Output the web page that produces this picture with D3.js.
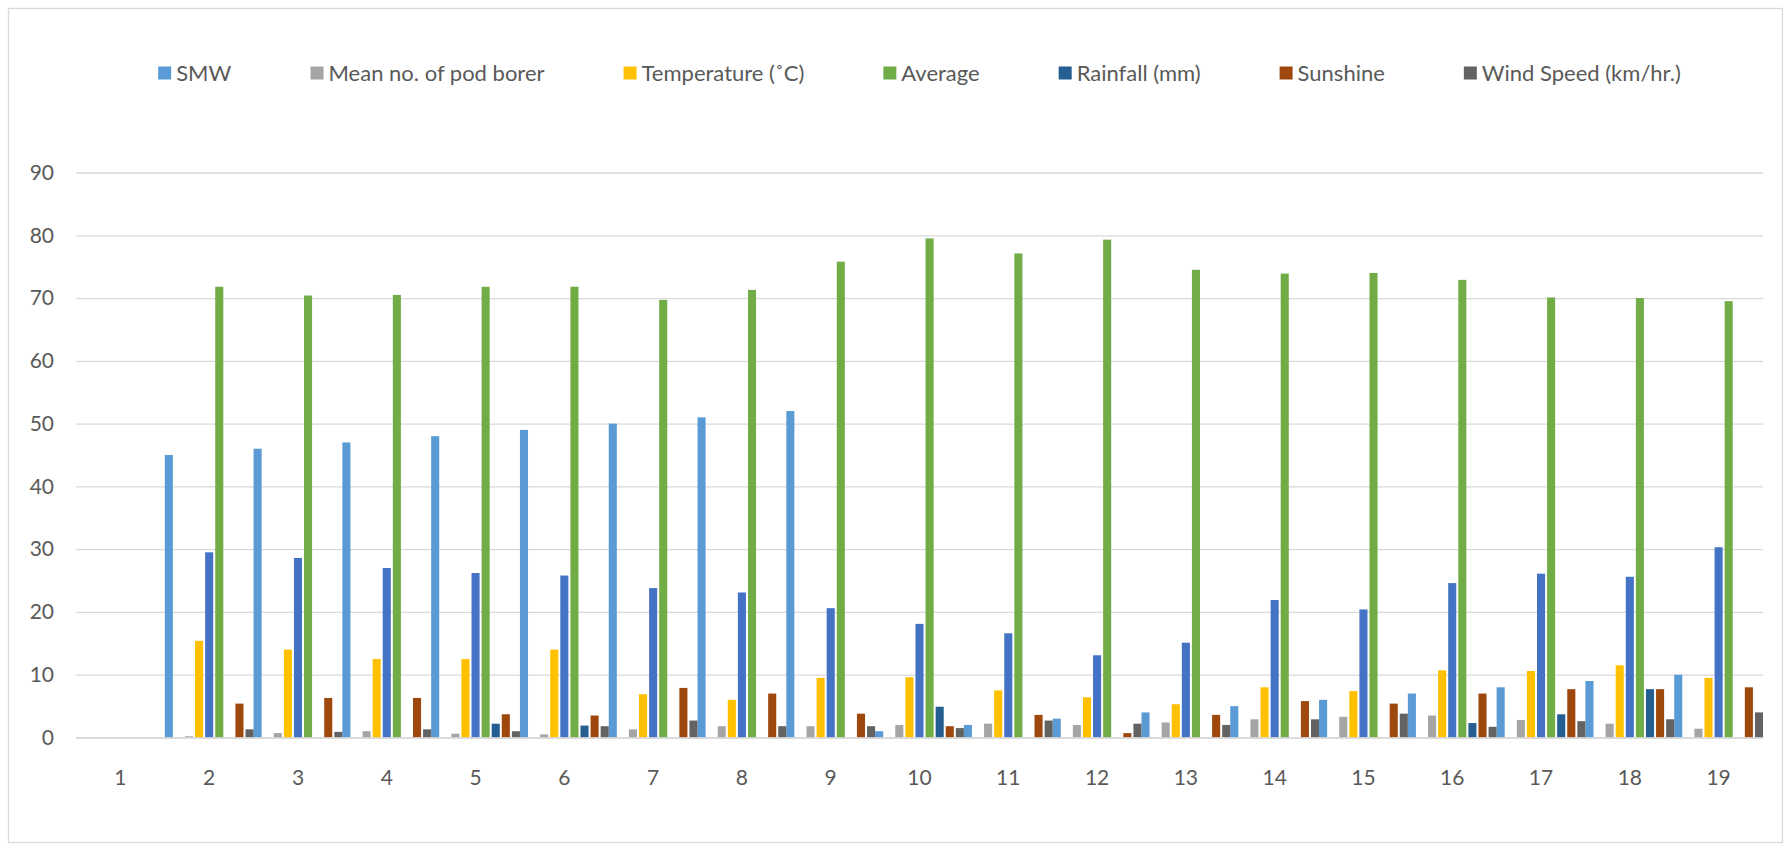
<!DOCTYPE html>
<html>
<head>
<meta charset="utf-8">
<script src="https://cdn.jsdelivr.net/npm/d3@7"></script>
<style>
  html, body { margin: 0; padding: 0; background: #fff; }
  svg { display: block; }
  text { font-family: Lato, "Open Sans", "Noto Sans", sans-serif; fill: #595959; }
</style>
</head>
<body>
<svg id="chart" width="1791" height="848"></svg>
<script>
// ---------- data ----------
const categories = ["1","2","3","4","5","6","7","8","9","10","11","12","13","14","15","16","17","18","19"];

const smw         = [0, 45, 46, 47, 48, 49, 50, 51, 52, 1, 2, 3, 4, 5, 6, 7, 8, 9, 10];
const blankSeries = [0, 0, 0, 0, 0, 0, 0, 0, 0, 0, 0, 0, 0, 0, 0, 0, 0, 0, 0];
const podBorer    = [0, 0.2, 0.7, 1.0, 0.6, 0.5, 1.3, 1.8, 1.8, 2.0, 2.2, 2.0, 2.4, 2.9, 3.3, 3.5, 2.8, 2.2, 1.4];
const temperature = [0, 15.4, 14.0, 12.5, 12.5, 14.0, 6.9, 6.0, 9.5, 9.6, 7.5, 6.4, 5.3, 8.0, 7.4, 10.7, 10.6, 11.5, 9.5];
const temperature2= [0, 29.5, 28.6, 27.0, 26.2, 25.8, 23.8, 23.1, 20.6, 18.1, 16.6, 13.1, 15.1, 21.9, 20.4, 24.6, 26.1, 25.6, 30.3];
const average     = [0, 71.8, 70.4, 70.5, 71.8, 71.8, 69.7, 71.3, 75.8, 79.5, 77.1, 79.3, 74.5, 73.9, 74.0, 72.9, 70.1, 70.0, 69.5];
const rainfall    = [0, 0, 0, 0, 2.2, 1.9, 0, 0, 0, 4.9, 0, 0, 0, 0, 0, 2.3, 3.7, 7.7, 0];
const sunshine    = [0, 5.4, 6.3, 6.3, 3.7, 3.5, 7.9, 7.0, 3.8, 1.8, 3.6, 0.7, 3.6, 5.8, 5.4, 7.0, 7.7, 7.7, 8.0];
const windSpeed   = [0, 1.3, 0.9, 1.3, 1.0, 1.8, 2.7, 1.8, 1.8, 1.5, 2.7, 2.2, 2.0, 2.9, 3.8, 1.7, 2.6, 2.9, 4.0];

const yTicks = [0, 10, 20, 30, 40, 50, 60, 70, 80, 90];

const series = [
  { name: "SMW",                   values: smw,          color: "#5B9BD5", legend: true },
  { name: "Series2",               values: blankSeries,  color: "#ED7D31", legend: false },
  { name: "Mean no. of pod borer", values: podBorer,     color: "#A5A5A5", legend: true },
  { name: "Temperature (˚C)",      values: temperature,  color: "#FFC000", legend: true },
  { name: "Series5",               values: temperature2, color: "#4472C4", legend: false },
  { name: "Average",               values: average,      color: "#70AD47", legend: true },
  { name: "Rainfall (mm)",         values: rainfall,     color: "#255E91", legend: true },
  { name: "Sunshine",              values: sunshine,     color: "#9E480E", legend: true },
  { name: "Wind Speed (km/hr.)",   values: windSpeed,    color: "#636363", legend: true }
];

// ---------- layout ----------
const W = 1791, H = 848;
const plot = { left: 76, right: 1763, top: 172.5, bottom: 737.5 };
const svg = d3.select("#chart");

// chart border
svg.append("rect")
  .attr("x", 8.5).attr("y", 8.5)
  .attr("width", W - 17).attr("height", H - 14)
  .attr("fill", "#fff").attr("stroke", "#D9D9D9").attr("stroke-width", 1.3);

const x0 = d3.scaleBand().domain(categories).range([plot.left, plot.right]).paddingInner(0).paddingOuter(0);
const x1 = d3.scaleBand().domain(series.map((s, i) => i)).range([0, x0.bandwidth()]).paddingInner(0.2).paddingOuter(0);
const y = d3.scaleLinear().domain([0, 90]).range([plot.bottom, plot.top]);

// gridlines
const yAxis = d3.axisLeft(y).tickValues(yTicks).tickSize(-(plot.right - plot.left)).tickPadding(22).tickFormat(d3.format("d"));
const gy = svg.append("g").attr("transform", `translate(${plot.left},0)`).call(yAxis);
gy.select(".domain").remove();
gy.selectAll(".tick line").attr("stroke", "#D9D9D9").attr("stroke-width", 1.3);
gy.selectAll(".tick text").attr("font-size", 21).attr("fill", "#595959").style("font-family", "Lato, 'Open Sans', sans-serif");

// bars
const gBars = svg.append("g");
series.forEach((s, si) => {
  gBars.append("g").selectAll("rect")
    .data(s.values.map((v, ci) => ({ v, c: categories[ci] })))
    .join("rect")
    .attr("x", d => x0(d.c) + x1(si))
    .attr("width", x1.bandwidth())
    .attr("y", d => y(d.v))
    .attr("height", d => y(0) - y(d.v))
    .attr("fill", s.color);
});

// x axis
const xAxis = d3.axisBottom(x0).tickSize(0).tickPadding(33);
const gx = svg.append("g").attr("transform", `translate(0,${plot.bottom})`).call(xAxis);
gx.select(".domain").attr("stroke", "#D9D9D9").attr("stroke-width", 1.6);
gx.selectAll(".tick text").attr("font-size", 21).attr("fill", "#595959").style("font-family", "Lato, 'Open Sans', sans-serif");

// legend
const legendItems = series.filter(s => s.legend);
const legend = svg.append("g");
const fontSize = 22, sq = 13, sqGap = 5, itemGap = 79;
const items = legend.selectAll("g").data(legendItems).join("g");
items.append("rect").attr("width", sq).attr("height", sq).attr("y", -sq / 2).attr("fill", d => d.color);
items.append("text").attr("x", sq + sqGap).attr("dy", "0.35em").attr("font-size", fontSize).text(d => d.name);
let widths = [];
items.each(function () { widths.push(this.getBBox().width); });
const total = d3.sum(widths) + itemGap * (widths.length - 1);
let cx = (plot.left + plot.right) / 2 - total / 2;
items.attr("transform", (d, i) => {
  const t = `translate(${cx},73)`;
  cx += widths[i] + itemGap;
  return t;
});
</script>
</body>
</html>
